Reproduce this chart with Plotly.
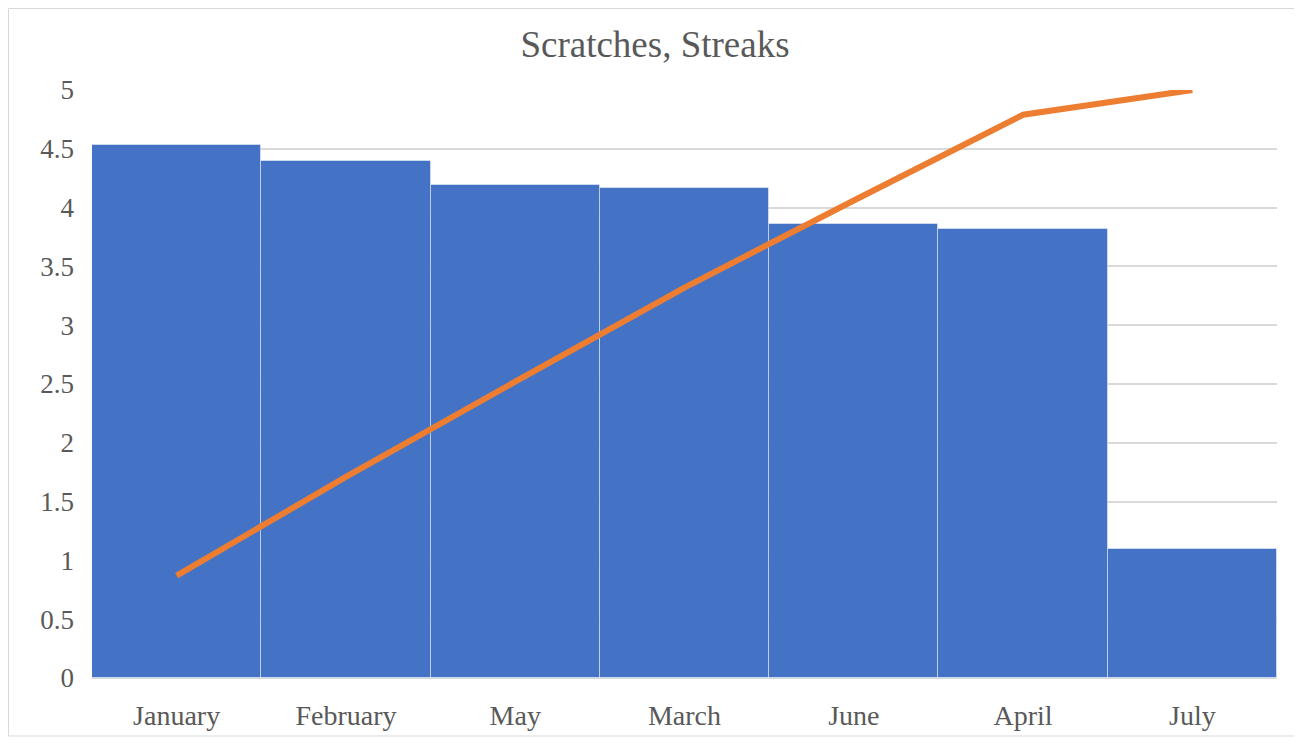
import plotly.graph_objs as go

months = ['January', 'February', 'May', 'March', 'June', 'April', 'July']
counts = [4.53, 4.40, 4.19, 4.17, 3.86, 3.82, 1.10]
cumulative = [0.87, 1.71, 2.52, 3.32, 4.06, 4.79, 5.0]

font = 'Liberation Serif, Times New Roman, serif'
grey = '#595959'

# page body adds 8px offset, so the figure is sized to the visible window
W, H = 1294, 734

fig = go.Figure()
fig.add_trace(go.Bar(
    x=months,
    y=counts,
    marker_color='#4472C4',
    marker_line_color='rgba(255,255,255,0.45)',
    marker_line_width=1,
    width=1.0,
))
fig.add_trace(go.Scatter(
    x=months,
    y=cumulative,
    mode='lines',
    line=dict(color='#ED7D31', width=6),
))

fig.update_layout(
    title=dict(text='Scratches, Streaks', x=0.5, xanchor='center',
               yref='container', y=1 - 36 / H, yanchor='middle',
               font=dict(family=font, size=37, color=grey)),
    width=W, height=H,
    margin=dict(l=84, r=25, t=82, b=64),
    paper_bgcolor='white', plot_bgcolor='white',
    showlegend=False,
    bargap=0,
    font=dict(family=font, size=27, color=grey),
    xaxis=dict(showgrid=False, showline=True, linecolor='#d9d9d9', linewidth=1,
               ticks='', tickfont=dict(size=28, color=grey), range=[-0.5, 6.5],
               ticklabelstandoff=12),
    yaxis=dict(range=[0, 5], dtick=0.5, showgrid=True, gridcolor='#d9d9d9',
               gridwidth=1.5, zeroline=False, ticks='',
               tickfont=dict(size=27, color=grey), ticklabelstandoff=17),
    shapes=[dict(type='rect', xref='paper', yref='paper',
                 x0=(0.5 - 84) / 1185, x1=(1288 - 84) / 1185,
                 y0=(670 - 728) / 588, y1=(670 - 0.5) / 588,
                 line=dict(color='#d9d9d9', width=1), layer='below')],
)

fig.write_html('out.html')
